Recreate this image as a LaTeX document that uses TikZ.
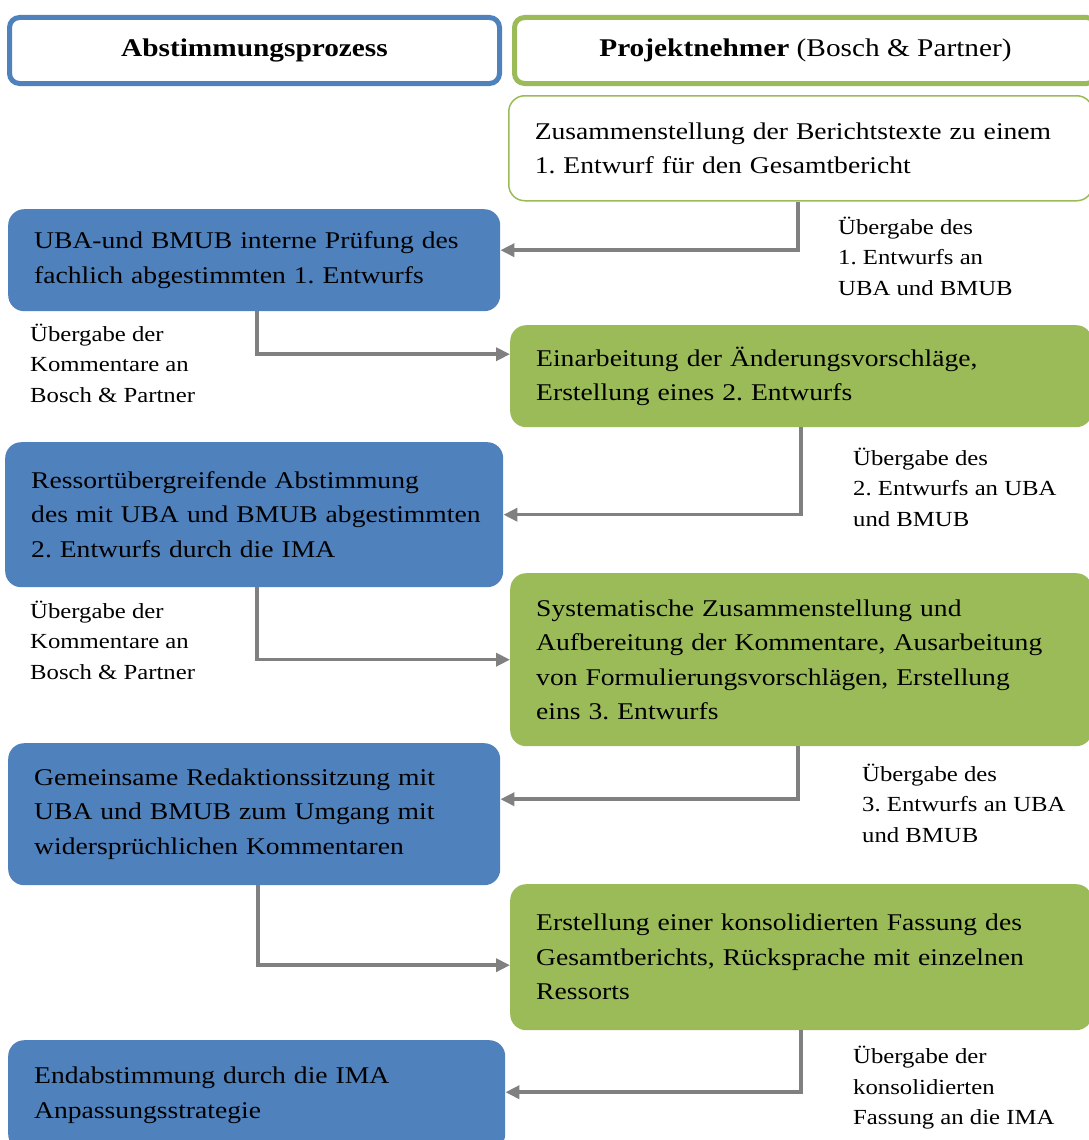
\documentclass[tikz,border=0pt]{standalone}
\usepackage{fontspec}
\setmainfont{Liberation Serif}[FakeStretch=1.15]
\usetikzlibrary{arrows.meta}
\definecolor{ubablue}{RGB}{79,129,189}
\definecolor{bpgreen}{RGB}{155,187,89}
\definecolor{flowgray}{RGB}{128,128,128}
\frenchspacing

\begin{document}
\begin{tikzpicture}[x=1pt, y=-1pt,
  hdr/.style={anchor=north west, minimum height=66pt, line width=5pt, rounded corners=10pt, font=\fontsize{25.5}{30}\selectfont},
  stepbox/.style={anchor=north west, rounded corners=16pt, align=left, inner xsep=26pt, font=\fontsize{24}{34.5}\selectfont},
  bluebox/.style={stepbox, fill=ubablue},
  greenbox/.style={stepbox, fill=bpgreen},
  note/.style={anchor=west, align=left, inner sep=0pt, font=\fontsize{21.5}{30.5}\selectfont},
  flow/.style={draw=flowgray, line width=3.5pt, -{Triangle[length=14pt,width=13pt]}}]
  \useasboundingbox (0,0) rectangle (1089,1140);
  \fill[white] (0,0) rectangle (1089,1140);

  % column heads
  \node[hdr, draw=ubablue, minimum width=490pt] (hleft) at (7,15) {\textbf{Abstimmungsprozess}};
  \node[hdr, draw=bpgreen, minimum width=582pt] (hright) at (512,15) {\textbf{Projektnehmer} (Bosch \& Partner)};

  % steps
  \node[stepbox, fill=white, draw=bpgreen, line width=1.5pt, text width=532pt, minimum height=105pt] (g1) at (508,95)
    {Zusammenstellung der Berichtstexte zu einem\\1. Entwurf für den Gesamtbericht};
  \node[bluebox, text width=440pt, minimum height=102pt] (b1) at (8,209)
    {UBA-und BMUB interne Prüfung des\\fachlich abgestimmten 1. Entwurfs};
  \node[greenbox, text width=530pt, minimum height=102pt] (g2) at (510,325)
    {Einarbeitung der Änderungsvorschläge,\\Erstellung eines 2. Entwurfs};
  \node[bluebox, inner xsep=26pt, text width=446pt, minimum height=145pt] (b2) at (5,442)
    {Ressortübergreifende Abstimmung\\\mbox{des mit UBA und BMUB abgestimmten}\\2. Entwurfs durch die IMA};
  \node[greenbox, text width=530pt, minimum height=173pt] (g3) at (510,573)
    {Systematische Zusammenstellung und\\Aufbereitung der Kommentare, Ausarbeitung\\von Formulierungsvorschlägen, Erstellung\\eins 3. Entwurfs};
  \node[bluebox, text width=440pt, minimum height=142pt] (b3) at (8,743)
    {Gemeinsame Redaktionssitzung mit\\UBA und BMUB zum Umgang mit\\widersprüchlichen Kommentaren};
  \node[greenbox, text width=530pt, minimum height=146pt] (g4) at (510,884)
    {Erstellung einer konsolidierten Fassung des\\Gesamtberichts, Rücksprache mit einzelnen\\Ressorts};
  \node[bluebox, text width=445pt, minimum height=110pt] (b4) at (8,1040)
    {Endabstimmung durch die IMA\\Anpassungsstrategie};

  % hand-over notes
  \node[note] (n1) at (838,256) {Übergabe des\\1. Entwurfs an\\UBA und BMUB};
  \node[note] (n2) at (30,363) {Übergabe der\\Kommentare an\\Bosch \& Partner};
  \node[note] (n3) at (853,487) {Übergabe des\\2. Entwurfs an UBA\\und BMUB};
  \node[note] (n4) at (30,640) {Übergabe der\\Kommentare an\\Bosch \& Partner};
  \node[note] (n5) at (862,803) {Übergabe des\\3. Entwurfs an UBA\\und BMUB};
  \node[note] (n6) at (853,1088) {Übergabe der\\konsolidierten\\Fassung an die IMA};

  \draw[flow] ([xshift=290pt]g1.south west) |- ([yshift=10pt]b1.east);
  \draw[flow] ([xshift=249pt]b1.south west) |- ([yshift=22pt]g2.west);
  \draw[flow] ([xshift=291pt]g2.south west) |- (b2.east);
  \draw[flow] ([xshift=252pt]b2.south west) |- (g3.west);
  \draw[flow] ([xshift=288pt]g3.south west) |- ([yshift=15pt]b3.east);
  \draw[flow] ([xshift=250pt]b3.south west) |- ([yshift=-8pt]g4.west);
  \draw[flow] ([xshift=291pt]g4.south west) |- ([yshift=3pt]b4.east);
\end{tikzpicture}
\end{document}
